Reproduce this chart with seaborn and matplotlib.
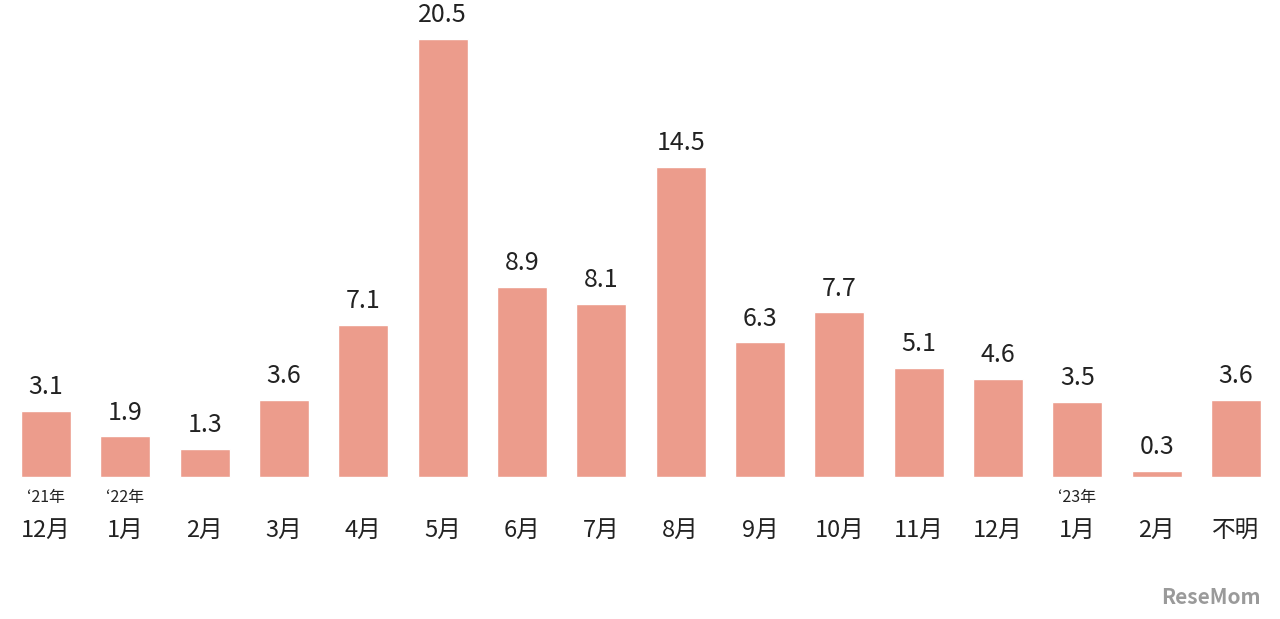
import matplotlib.pyplot as plt
import seaborn as sns
import pandas as pd

meses = ['12月', '1月', '2月', '3月', '4月', '5月', '6月', '7月', '8月', '9月',
         '10月', '11月', '12月', '1月', '2月', '不明']
anios = {0: '‘21年', 1: '‘22年', 13: '‘23年'}
valores = [3.1, 1.9, 1.3, 3.6, 7.1, 20.5, 8.9, 8.1, 14.5, 6.3, 7.7, 5.1, 4.6, 3.5, 0.3, 3.6]

sns.set_theme(style="white")
plt.rcParams['font.family'] = ['Noto Sans CJK JP', 'DejaVu Sans']

df = pd.DataFrame({'pos': range(len(valores)), 'valor': valores})

fig = plt.figure(figsize=(12.8, 6.19), dpi=100)
ax = fig.add_axes([0, 0, 1, 1])
sns.barplot(data=df, x='pos', y='valor', color='#EC9C8C', saturation=1,
            width=0.63, ax=ax, native_scale=True)
ax.set_xlim(-0.58, 15.555)
ax.set_ylim(-6.64, 22.3)
ax.axis('off')

for i, v in enumerate(valores):
    ax.text(i, v + 0.5, f'{v}', ha='center', va='bottom', fontsize=18, color='#222222')
    ax.text(i, -2.5, meses[i], ha='center', va='center', fontsize=17, color='#222222')
    if i in anios:
        ax.text(i, -0.95, anios[i], ha='center', va='center', fontsize=11.5, color='#222222')

fig.text(0.985, 0.035, 'ReseMom', ha='right', va='center', fontsize=15,
         color='#9a9a9a', fontweight='bold')

fig.savefig('out.png', dpi=100)
